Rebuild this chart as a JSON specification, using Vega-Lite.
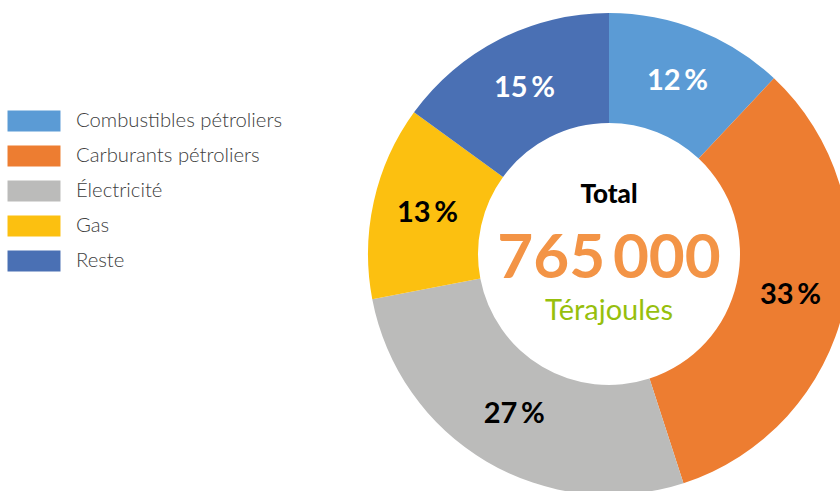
{
  "$schema": "https://vega.github.io/schema/vega-lite/v6.json",
  "width": 482,
  "height": 482,
  "autosize": {"type": "none"},
  "padding": {"left": 368, "top": 13, "right": 0, "bottom": 0},
  "background": "white",
  "config": {"view": {"stroke": null}, "font": "Lato"},
  "datasets": {
    "parts": [
      {"cat": "Combustibles pétroliers", "share": 12, "label": "12\u2009%", "rank": 1},
      {"cat": "Carburants pétroliers", "share": 33, "label": "33\u2009%", "rank": 2},
      {"cat": "Électricité", "share": 27, "label": "27\u2009%", "rank": 3},
      {"cat": "Gas", "share": 13, "label": "13\u2009%", "rank": 4},
      {"cat": "Reste", "share": 15, "label": "15\u2009%", "rank": 5}
    ]
  },
  "layer": [
    {
      "data": {"name": "parts"},
      "mark": {"type": "arc", "innerRadius": 131, "outerRadius": 241},
      "encoding": {
        "theta": {"field": "share", "type": "quantitative", "stack": true},
        "order": {"field": "rank", "type": "quantitative"},
        "color": {
          "field": "cat",
          "type": "nominal",
          "scale": {
            "domain": ["Combustibles pétroliers", "Carburants pétroliers", "Électricité", "Gas", "Reste"],
            "range": ["#5B9BD5", "#ED7D31", "#BBBBBA", "#FCC010", "#4A70B4"]
          },
          "legend": {
            "orient": "none",
            "legendX": -345,
            "legendY": 97,
            "title": null,
            "symbolType": "M-2.5,-1H2.5V1H-2.5Z",
            "symbolSize": 449,
            "symbolStrokeWidth": 0,
            "symbolOpacity": 1,
            "labelFontSize": 20.3,
            "labelFont": "Lato",
            "labelFontWeight": 300,
            "labelColor": "#404040",
            "labelOffset": 31,
            "labelLimit": 400,
            "rowPadding": 13,
            "padding": 0
          }
        }
      }
    },
    {
      "data": {"name": "parts"},
      "mark": {"type": "text", "radius": 186, "fontSize": 29, "fontWeight": "bold", "baseline": "middle", "align": "center"},
      "encoding": {
        "theta": {"field": "share", "type": "quantitative", "stack": true},
        "order": {"field": "rank", "type": "quantitative"},
        "text": {"field": "label"},
        "color": {
          "condition": {"test": "datum.cat === 'Combustibles pétroliers' || datum.cat === 'Reste'", "value": "white"},
          "value": "black"
        }
      }
    },
    {
      "data": {"values": [{"t": "Total"}]},
      "mark": {"type": "text", "fontSize": 26, "fontWeight": 900, "color": "black", "baseline": "alphabetic", "align": "center", "dy": -51},
      "encoding": {"text": {"field": "t"}}
    },
    {
      "data": {"values": [{"t": "765\u2009000"}]},
      "mark": {"type": "text", "fontSize": 62, "fontWeight": "bold", "color": "#F39446", "baseline": "alphabetic", "align": "center", "dy": 24},
      "encoding": {"text": {"field": "t"}}
    },
    {
      "data": {"values": [{"t": "Térajoules"}]},
      "mark": {"type": "text", "fontSize": 29, "color": "#97BF0D", "baseline": "alphabetic", "align": "center", "dy": 66},
      "encoding": {"text": {"field": "t"}}
    }
  ]
}
